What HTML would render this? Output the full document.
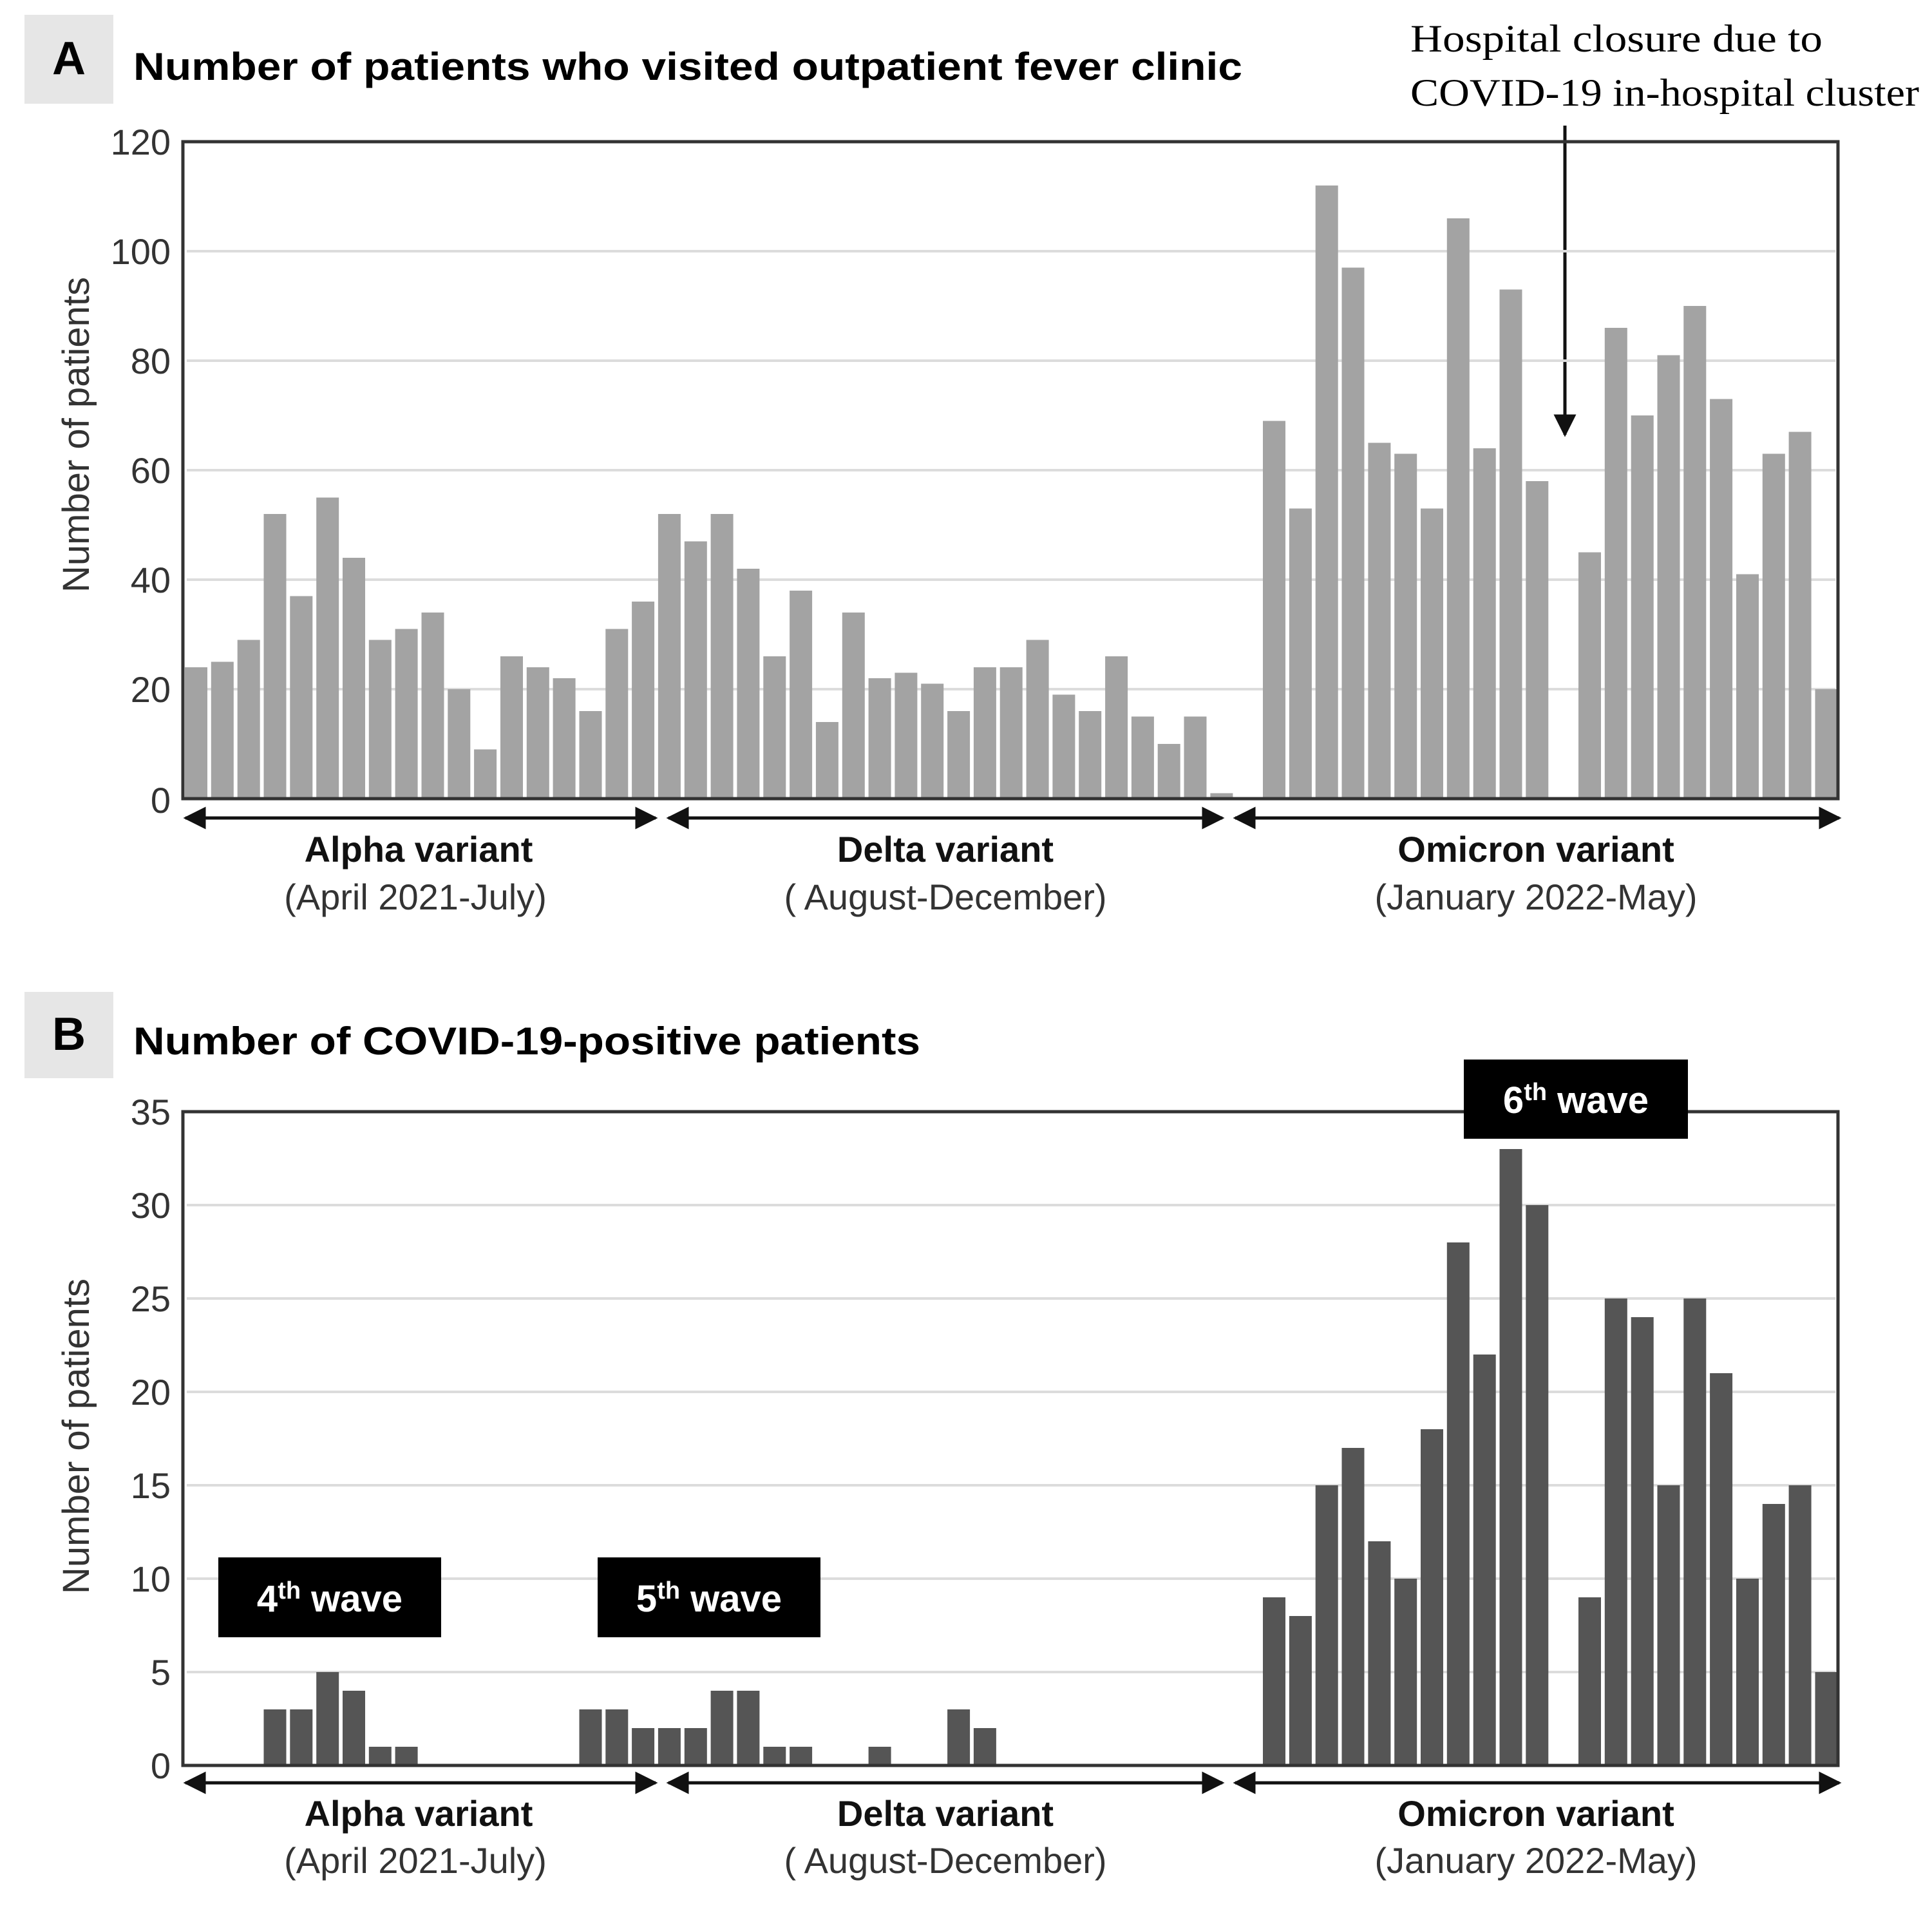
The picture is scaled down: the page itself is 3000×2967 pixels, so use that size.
<!DOCTYPE html>
<html><head><meta charset="utf-8"><style>html,body{margin:0;padding:0;background:#fff}svg{display:block}</style></head>
<body>
<svg width="3000" height="2967" viewBox="0 0 3000 2967" xmlns="http://www.w3.org/2000/svg">
<defs><marker id="ah" viewBox="0 0 10 10" refX="9" refY="5" markerWidth="7" markerHeight="7" orient="auto-start-reverse"><path d="M0,0L10,5L0,10z" fill="#111"/></marker></defs>
<rect width="3000" height="2967" fill="#fff"/>
<!-- Panel A -->
<rect x="38" y="23" width="138" height="138" fill="#e6e6e6"/>
<text x="107" y="115" font-family="Liberation Sans, sans-serif" font-weight="bold" font-size="72" text-anchor="middle">A</text>
<text x="207" y="124" font-family="Liberation Sans, sans-serif" font-weight="bold" font-size="60" textLength="1722" lengthAdjust="spacingAndGlyphs">Number of patients who visited outpatient fever clinic</text>
<text x="2190" y="80" font-family="Liberation Serif, serif" font-size="60" textLength="640" lengthAdjust="spacingAndGlyphs">Hospital  closure  due to</text>
<text x="2190" y="164" font-family="Liberation Serif, serif" font-size="60" textLength="790" lengthAdjust="spacingAndGlyphs">COVID-19 in-hospital  cluster</text>
<line x1="2430" y1="195" x2="2430" y2="675" stroke="#111" stroke-width="5" marker-end="url(#ah)"/>
<g stroke="#dcdcdc" stroke-width="4">
<line x1="290" y1="390" x2="2850" y2="390"/><line x1="290" y1="560" x2="2850" y2="560"/><line x1="290" y1="730" x2="2850" y2="730"/><line x1="290" y1="900" x2="2850" y2="900"/><line x1="290" y1="1070" x2="2850" y2="1070"/>
</g>
<g transform="translate(0,1240) scale(1,-8.5)" fill="#a3a3a3">
<rect x="287" width="35" height="24"/><rect x="327.8" width="35" height="25"/><rect x="368.7" width="35" height="29"/><rect x="409.5" width="35" height="52"/><rect x="450.3" width="35" height="37"/><rect x="491.2" width="35" height="55"/><rect x="532" width="35" height="44"/><rect x="572.8" width="35" height="29"/><rect x="613.6" width="35" height="31"/><rect x="654.5" width="35" height="34"/><rect x="695.3" width="35" height="20"/><rect x="736.1" width="35" height="9"/><rect x="777" width="35" height="26"/><rect x="817.8" width="35" height="24"/><rect x="858.6" width="35" height="22"/><rect x="899.5" width="35" height="16"/><rect x="940.3" width="35" height="31"/><rect x="981.1" width="35" height="36"/>
<rect x="1021.9" width="35" height="52"/><rect x="1062.8" width="35" height="47"/><rect x="1103.6" width="35" height="52"/><rect x="1144.4" width="35" height="42"/><rect x="1185.3" width="35" height="26"/><rect x="1226.1" width="35" height="38"/><rect x="1266.9" width="35" height="14"/><rect x="1307.8" width="35" height="34"/><rect x="1348.6" width="35" height="22"/><rect x="1389.4" width="35" height="23"/><rect x="1430.2" width="35" height="21"/><rect x="1471.1" width="35" height="16"/><rect x="1511.9" width="35" height="24"/><rect x="1552.7" width="35" height="24"/><rect x="1593.6" width="35" height="29"/><rect x="1634.4" width="35" height="19"/><rect x="1675.2" width="35" height="16"/><rect x="1716.1" width="35" height="26"/><rect x="1756.9" width="35" height="15"/><rect x="1797.7" width="35" height="10"/><rect x="1838.5" width="35" height="15"/><rect x="1879.4" width="35" height="1"/>
<rect x="1961" width="35" height="69"/><rect x="2001.9" width="35" height="53"/><rect x="2042.7" width="35" height="112"/><rect x="2083.5" width="35" height="97"/><rect x="2124.4" width="35" height="65"/><rect x="2165.2" width="35" height="63"/><rect x="2206" width="35" height="53"/><rect x="2246.8" width="35" height="106"/><rect x="2287.7" width="35" height="64"/><rect x="2328.5" width="35" height="93"/><rect x="2369.3" width="35" height="58"/>
<rect x="2451" width="35" height="45"/><rect x="2491.8" width="35" height="86"/><rect x="2532.7" width="35" height="70"/><rect x="2573.5" width="35" height="81"/><rect x="2614.3" width="35" height="90"/><rect x="2655.1" width="35" height="73"/><rect x="2696" width="35" height="41"/><rect x="2736.8" width="35" height="63"/><rect x="2777.6" width="35" height="67"/><rect x="2818.5" width="35" height="20"/>
</g>
<rect x="284" y="220" width="2570" height="1020" fill="none" stroke="#333" stroke-width="5"/>
<g font-family="Liberation Sans, sans-serif" font-size="56" fill="#333" text-anchor="end">
<text x="265" y="240">120</text><text x="265" y="410">100</text><text x="265" y="580">80</text><text x="265" y="750">60</text><text x="265" y="920">40</text><text x="265" y="1090">20</text><text x="265" y="1262">0</text>
</g>
<text transform="translate(138,675) rotate(-90)" font-family="Liberation Sans, sans-serif" font-size="58" fill="#333" text-anchor="middle">Number of patients</text>
<g stroke="#111" stroke-width="5">
<line x1="288" y1="1270" x2="1018" y2="1270" marker-start="url(#ah)" marker-end="url(#ah)"/>
<line x1="1038" y1="1270" x2="1898" y2="1270" marker-start="url(#ah)" marker-end="url(#ah)"/>
<line x1="1918" y1="1270" x2="2856" y2="1270" marker-start="url(#ah)" marker-end="url(#ah)"/>
</g>
<g font-family="Liberation Sans, sans-serif" font-size="56" fill="#111" text-anchor="middle">
<text x="650" y="1338" font-weight="bold">Alpha variant</text><text x="645" y="1412" fill="#333">(April 2021-July)</text>
<text x="1468" y="1338" font-weight="bold">Delta variant</text><text x="1468" y="1412" fill="#333">( August-December)</text>
<text x="2385" y="1338" font-weight="bold">Omicron variant</text><text x="2385" y="1412" fill="#333">(January 2022-May)</text>
</g>
<!-- Panel B -->
<rect x="38" y="1540" width="138" height="134" fill="#e6e6e6"/>
<text x="107" y="1630" font-family="Liberation Sans, sans-serif" font-weight="bold" font-size="72" text-anchor="middle">B</text>
<text x="207" y="1637" font-family="Liberation Sans, sans-serif" font-weight="bold" font-size="60" textLength="1222" lengthAdjust="spacingAndGlyphs">Number of COVID-19-positive patients</text>
<g stroke="#dcdcdc" stroke-width="4">
<line x1="290" y1="1871" x2="2850" y2="1871"/><line x1="290" y1="2016" x2="2850" y2="2016"/><line x1="290" y1="2161" x2="2850" y2="2161"/><line x1="290" y1="2306" x2="2850" y2="2306"/><line x1="290" y1="2451" x2="2850" y2="2451"/><line x1="290" y1="2596" x2="2850" y2="2596"/>
</g>
<g transform="translate(0,2741) scale(1,-29)" fill="#555">
<rect x="409.5" width="35" height="3"/><rect x="450.3" width="35" height="3"/><rect x="491.2" width="35" height="5"/><rect x="532" width="35" height="4"/><rect x="572.8" width="35" height="1"/><rect x="613.6" width="35" height="1"/>
<rect x="899.5" width="35" height="3"/><rect x="940.3" width="35" height="3"/><rect x="981.1" width="35" height="2"/><rect x="1021.9" width="35" height="2"/><rect x="1062.8" width="35" height="2"/><rect x="1103.6" width="35" height="4"/><rect x="1144.4" width="35" height="4"/><rect x="1185.3" width="35" height="1"/><rect x="1226.1" width="35" height="1"/><rect x="1348.6" width="35" height="1"/><rect x="1471.1" width="35" height="3"/><rect x="1511.9" width="35" height="2"/>
<rect x="1961" width="35" height="9"/><rect x="2001.9" width="35" height="8"/><rect x="2042.7" width="35" height="15"/><rect x="2083.5" width="35" height="17"/><rect x="2124.4" width="35" height="12"/><rect x="2165.2" width="35" height="10"/><rect x="2206" width="35" height="18"/><rect x="2246.8" width="35" height="28"/><rect x="2287.7" width="35" height="22"/><rect x="2328.5" width="35" height="33"/><rect x="2369.3" width="35" height="30"/>
<rect x="2451" width="35" height="9"/><rect x="2491.8" width="35" height="25"/><rect x="2532.7" width="35" height="24"/><rect x="2573.5" width="35" height="15"/><rect x="2614.3" width="35" height="25"/><rect x="2655.1" width="35" height="21"/><rect x="2696" width="35" height="10"/><rect x="2736.8" width="35" height="14"/><rect x="2777.6" width="35" height="15"/><rect x="2818.5" width="35" height="5"/>
</g>
<rect x="284" y="1726" width="2570" height="1015" fill="none" stroke="#333" stroke-width="5"/>
<g font-family="Liberation Sans, sans-serif" font-size="56" fill="#333" text-anchor="end">
<text x="265" y="1746">35</text><text x="265" y="1891">30</text><text x="265" y="2036">25</text><text x="265" y="2181">20</text><text x="265" y="2326">15</text><text x="265" y="2471">10</text><text x="265" y="2616">5</text><text x="265" y="2761">0</text>
</g>
<text transform="translate(138,2230) rotate(-90)" font-family="Liberation Sans, sans-serif" font-size="58" fill="#333" text-anchor="middle">Number of patients</text>
<g font-family="Liberation Sans, sans-serif" font-weight="bold" font-size="58" fill="#fff" text-anchor="middle">
<rect x="339" y="2418" width="346" height="124" fill="#000"/>
<text x="512" y="2502">4<tspan font-size="38" dy="-20">th</tspan><tspan dy="20"> wave</tspan></text>
<rect x="928" y="2418" width="346" height="124" fill="#000"/>
<text x="1101" y="2502">5<tspan font-size="38" dy="-20">th</tspan><tspan dy="20"> wave</tspan></text>
<rect x="2273" y="1645" width="348" height="123" fill="#000"/>
<text x="2447" y="1728">6<tspan font-size="38" dy="-20">th</tspan><tspan dy="20"> wave</tspan></text>
</g>
<g stroke="#111" stroke-width="5">
<line x1="288" y1="2768" x2="1018" y2="2768" marker-start="url(#ah)" marker-end="url(#ah)"/>
<line x1="1038" y1="2768" x2="1898" y2="2768" marker-start="url(#ah)" marker-end="url(#ah)"/>
<line x1="1918" y1="2768" x2="2856" y2="2768" marker-start="url(#ah)" marker-end="url(#ah)"/>
</g>
<g font-family="Liberation Sans, sans-serif" font-size="56" fill="#111" text-anchor="middle">
<text x="650" y="2835" font-weight="bold">Alpha variant</text><text x="645" y="2908" fill="#333">(April 2021-July)</text>
<text x="1468" y="2835" font-weight="bold">Delta variant</text><text x="1468" y="2908" fill="#333">( August-December)</text>
<text x="2385" y="2835" font-weight="bold">Omicron variant</text><text x="2385" y="2908" fill="#333">(January 2022-May)</text>
</g>
</svg>
</body></html>
